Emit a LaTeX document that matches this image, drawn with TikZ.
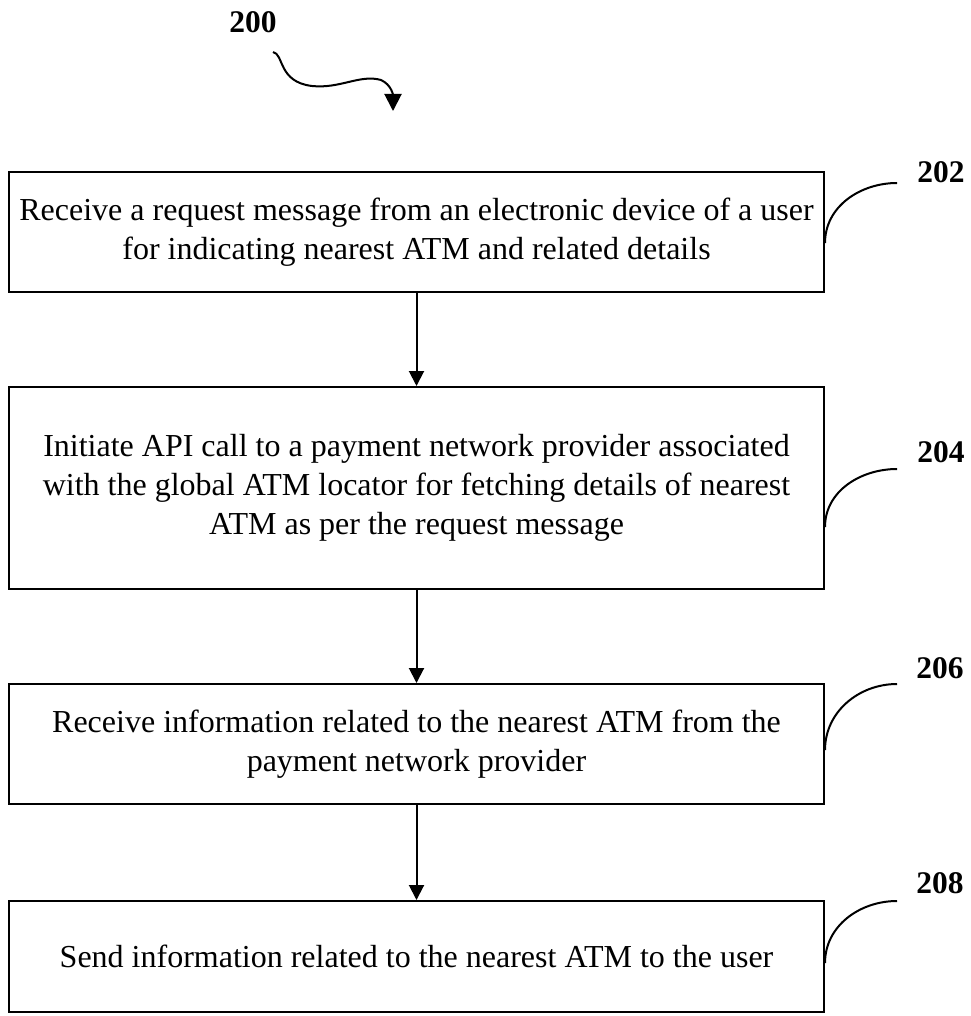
\documentclass[tikz,border=0pt]{standalone}
\usepackage{fontspec}
\setmainfont{Liberation Serif}
\usetikzlibrary{arrows.meta}

\tikzset{
  stepbox/.style={draw, line width=2pt, rectangle, align=center, inner sep=0pt,
    minimum width=815pt, font=\fontsize{32}{39}\selectfont},
  flow/.style={line width=2pt, -{Triangle[length=15pt,width=15pt]}},
  refline/.style={line width=2pt},
  reflabel/.style={font=\fontsize{31.5}{32}\selectfont\bfseries}
}

\begin{document}
\begin{tikzpicture}[x=1pt,y=-1pt]
  \useasboundingbox (0,0) rectangle (970,1016);

  % figure number and its pointer
  \node[reflabel] (fig) at (253,22) {200};
  \coordinate (s0) at (273,52);
  \coordinate (s1) at (393,111);
  \draw[line width=2pt, -{Triangle[length=17pt,width=17pt]}] (s0)
        .. controls (284,54) and (278,82) .. (312,86)
        .. controls (340,89) and (360,74) .. (381,80)
        .. controls (392,85) and (393,96) .. (s1);

  % process steps
  \node[stepbox, minimum height=120pt] (b1) at (416.5,232)
    {Receive a request message from an electronic device of a user\\
     for indicating nearest ATM and related details};
  \node[stepbox, minimum height=202pt] (b2) at (416.5,488)
    {Initiate API call to a payment network provider associated\\
     with the global ATM locator for fetching details of nearest\\
     ATM as per the request message};
  \node[stepbox, minimum height=120pt] (b3) at (416.5,744)
    {Receive information related to the nearest ATM from the\\
     payment network provider};
  \node[stepbox, minimum height=111pt] (b4) at (416.5,956.5)
    {Send information related to the nearest ATM to the user};

  % connectors between steps
  \draw[flow] (b1.south) -- (b2.north);
  \draw[flow] (b2.south) -- (b3.north);
  \draw[flow] (b3.south) -- (b4.north);

  % reference numerals with leader curves
  \node[reflabel] (r1) at (941,172) {202};
  \node[reflabel] (r2) at (941,452) {204};
  \node[reflabel] (r3) at (940,668) {206};
  \node[reflabel] (r4) at (940,883) {208};

  \coordinate (e1) at (897,183);
  \coordinate (e2) at (897,469);
  \coordinate (e3) at (897,684);
  \coordinate (e4) at (897,901);

  \draw[refline] ([yshift=-11pt]b1.east) to[out=90,in=180] (e1);
  \draw[refline] ([yshift=-39pt]b2.east) to[out=90,in=180] (e2);
  \draw[refline] ([yshift=-6pt]b3.east) to[out=90,in=180] (e3);
  \draw[refline] ([yshift=-6.5pt]b4.east) to[out=90,in=180] (e4);
\end{tikzpicture}
\end{document}
